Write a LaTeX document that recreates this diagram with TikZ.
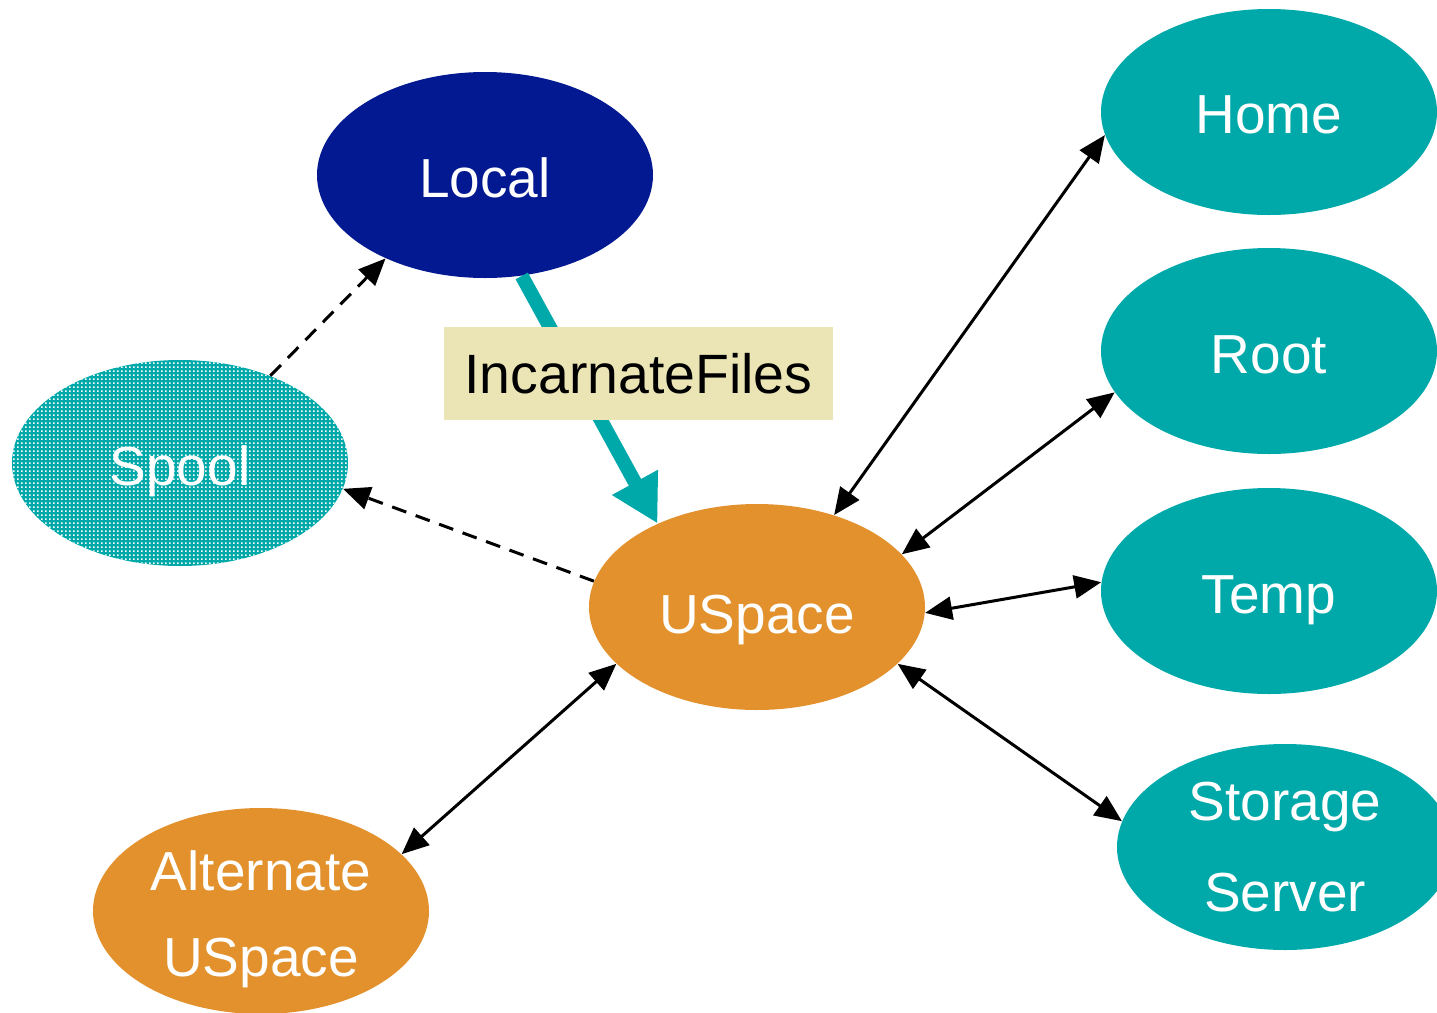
\documentclass[tikz,border=0pt]{standalone}
\usepackage{fontspec}
\setmainfont{Liberation Sans}
\usetikzlibrary{shapes.geometric,arrows.meta,patterns.meta}

\definecolor{localblue}{HTML}{031991}
\definecolor{storeteal}{HTML}{00A9A9}
\definecolor{spaceorange}{HTML}{E2912C}
\definecolor{labelbg}{HTML}{EBE5B5}

% fine grid of light dots used for the spool area
\tikzdeclarepattern{
  name=spooldots,
  type=uncolored,
  bounding box={(0pt,0pt) and (2.2pt,2.2pt)},
  tile size={(2.2pt,2.2pt)},
  code={\fill (0.6pt,0.6pt) rectangle (1.55pt,1.55pt);}
}

\begin{document}
\begin{tikzpicture}[x=0.5pt,y=-0.5pt,
  blob/.style={ellipse, minimum width=168pt, minimum height=103pt, inner sep=0pt,
    text=white, font=\fontsize{27.5}{42.5}\selectfont, align=center,
    text height=22pt, text depth=0pt},
  store/.style={blob, fill=storeteal},
  space/.style={blob, fill=spaceorange},
  link/.style={line width=1.5pt, {Triangle[length=13.5pt,width=11.5pt]}-{Triangle[length=13.5pt,width=11.5pt]}},
  hint/.style={line width=1.5pt, dash pattern=on 7.5pt off 5pt, -{Triangle[length=13.5pt,width=11.5pt]}},
  feed/.style={line width=7pt, storeteal, -{Triangle[length=23.5pt,width=24.5pt]}},
  tag/.style={fill=labelbg, minimum width=194.5pt, minimum height=46.5pt, inner sep=0pt,
    font=\fontsize{27.7}{32}\selectfont}
]
\useasboundingbox (0,0) rectangle (1437,1013);
\clip (0,0) rectangle (1437,1013);

% nodes
\node[blob, fill=localblue] (Local) at (485,175) {Local};
\node[blob, preaction={fill=storeteal}, pattern=spooldots, pattern color=white] (Spool) at (180,463) {Spool};
\node[space, text height=26pt] (USpace) at (757,607) {USpace};
\node[space, font=\fontsize{27.5}{43.3}\selectfont, text height=65.7pt] (Alt) at (261,911) {Alternate\\USpace};
\node[store, text height=21pt] (Home) at (1269,112) {Home};
\node[store] (Root) at (1269,351) {Root};
\node[store] (Temp) at (1269,591) {Temp};
\node[store, font=\fontsize{27.5}{45.8}\selectfont, text height=64.7pt] (Storage) at (1285,847) {Storage\\Server};

% connectors
\draw[feed] (Local.-70.9) -- (USpace.140.4);
\node[tag] (Incarnate) at (638.5,373.5) {IncarnateFiles};

\draw[hint] (Spool.44.7) -- (Local.220.6);
\draw[hint] (USpace.171.6) -- (Spool.-9);

\draw[link] (Home.188.5) -- (USpace.50.3);
\draw[link] (Root.195.1) -- (USpace.20.8);
\draw[link] (Temp.177.6) -- (USpace.-2.7);
\draw[link] (Storage.171.5) -- (USpace.-22.4);
\draw[link] (Alt.22.2) -- (USpace.202.4);
\end{tikzpicture}
\end{document}
